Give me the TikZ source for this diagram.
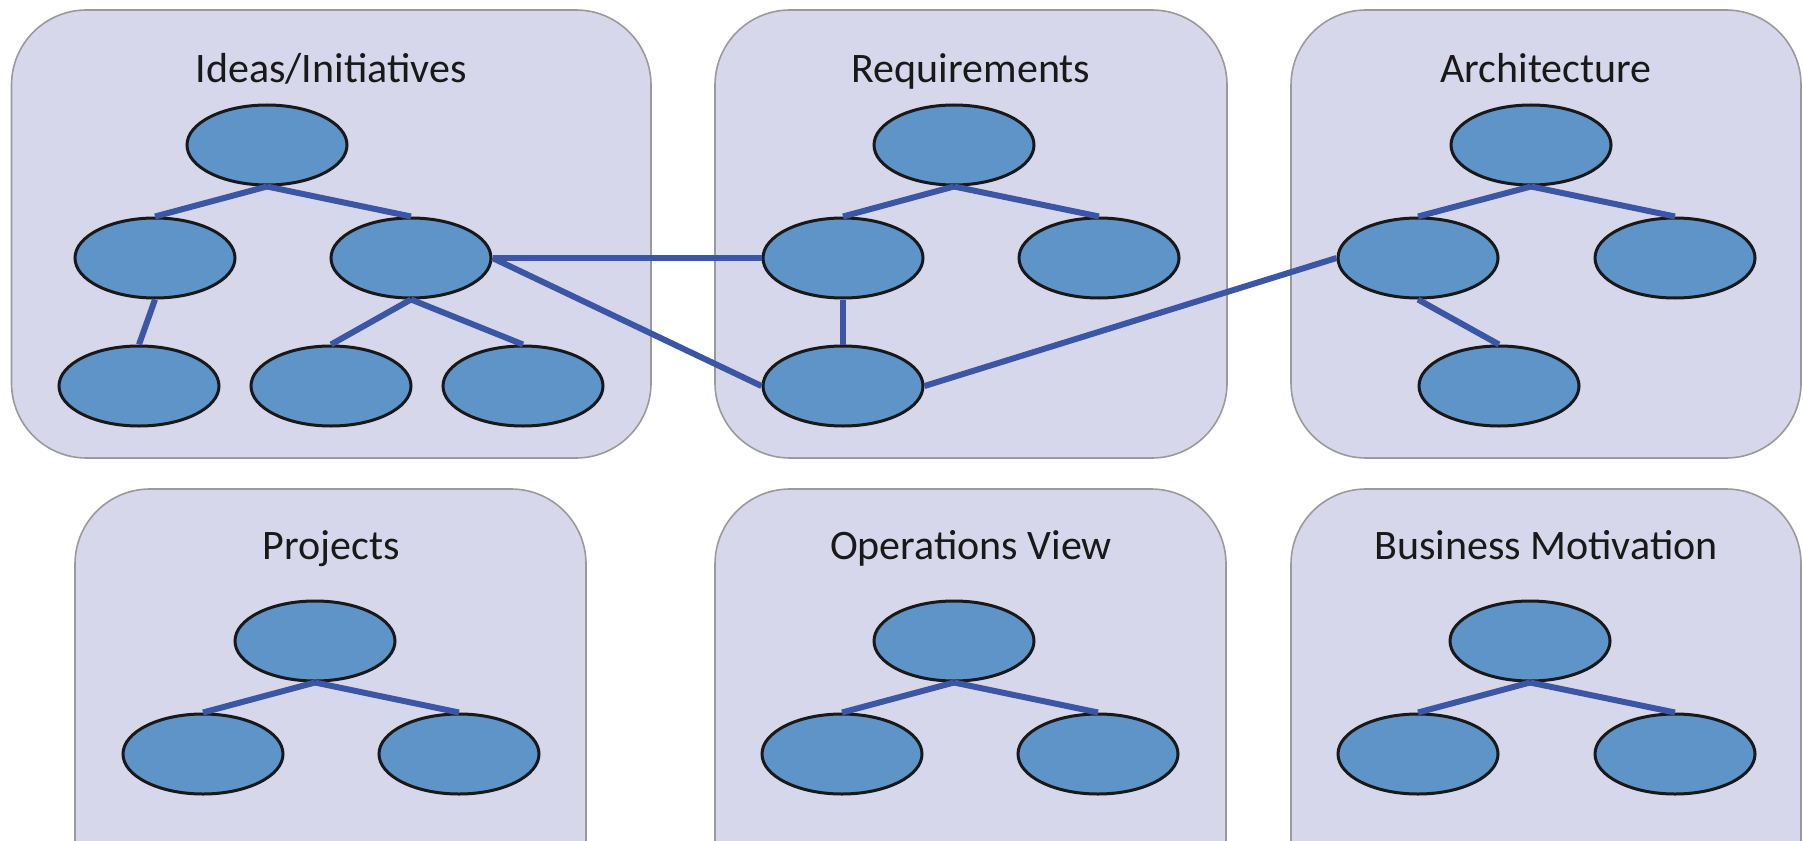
\documentclass[tikz,border=0pt]{standalone}
\usepackage{fontspec}
\setmainfont{Carlito}
\usetikzlibrary{shapes.geometric}
\definecolor{boxfill}{HTML}{D6D7EA}
\definecolor{boxline}{HTML}{9A9A9A}
\definecolor{nodefill}{HTML}{5E94C8}
\definecolor{edgecol}{HTML}{3C56A6}
\tikzset{
  panel/.style={draw=boxline, fill=boxfill, line width=1.6pt, rounded corners=75pt},
  item/.style={ellipse, draw=black!90, fill=nodefill, line width=3pt, minimum width=160pt, minimum height=80pt, inner sep=0pt},
  link/.style={draw=edgecol, line width=6pt},
  title/.style={font=\fontsize{42}{48}\selectfont, text=black!90, inner sep=0pt, anchor=base}
}
\begin{document}
\begin{tikzpicture}[x=1pt,y=-1pt]
\useasboundingbox (0,0) rectangle (1803,840);
\begin{scope}
\clip (0,0) rectangle (1803,840);
% panels
\draw[panel] (11.5,10) rectangle (651,458);
\draw[panel] (715,10) rectangle (1227,458);
\draw[panel] (1291,10) rectangle (1801,458);
\draw[panel] (75,489) rectangle (586,920);
\draw[panel] (715,489) rectangle (1226,920);
\draw[panel] (1291,489) rectangle (1801,920);
\end{scope}
% titles
\node[title] (t1) at (331,83) {Ideas/Initiatives};
\node[title] (t2) at (971,83) {Requirements};
\node[title] (t3) at (1546,83) {Architecture};
\node[title] (t4) at (331,559) {Projects};
\node[title] (t5) at (971,559) {Operations View};
\node[title] (t6) at (1546,559) {Business Motivation};
% Ideas/Initiatives
\node[item] (i1) at (267,145) {};
\node[item] (i2) at (155,258) {};
\node[item] (i3) at (411,258) {};
\node[item] (i4) at (139,386) {};
\node[item] (i5) at (331,386) {};
\node[item] (i6) at (523,386) {};
% Requirements
\node[item] (r1) at (954,145) {};
\node[item] (r2) at (843,258) {};
\node[item] (r3) at (1099,258) {};
\node[item] (r4) at (843,386) {};
% Architecture
\node[item] (a1) at (1531,145) {};
\node[item] (a2) at (1418,258) {};
\node[item] (a3) at (1675,258) {};
\node[item] (a4) at (1499,386) {};
% Projects
\node[item] (p1) at (315,641) {};
\node[item] (p2) at (203,754) {};
\node[item] (p3) at (459,754) {};
% Operations View
\node[item] (o1) at (954,641) {};
\node[item] (o2) at (842,754) {};
\node[item] (o3) at (1098,754) {};
% Business Motivation
\node[item] (b1) at (1530,641) {};
\node[item] (b2) at (1418,754) {};
\node[item] (b3) at (1675,754) {};
% edges
\path[link] (i1.south) -- (i2.north);
\path[link] (i1.south) -- (i3.north);
\path[link] (i2.south) -- (i4.north);
\path[link] (i3.south) -- (i5.north);
\path[link] (i3.south) -- (i6.north);
\path[link] (r1.south) -- (r2.north);
\path[link] (r1.south) -- (r3.north);
\path[link] (r2.south) -- (r4.north);
\path[link] (a1.south) -- (a2.north);
\path[link] (a1.south) -- (a3.north);
\path[link] (a2.south) -- (a4.north);
\path[link] (p1.south) -- (p2.north);
\path[link] (p1.south) -- (p3.north);
\path[link] (o1.south) -- (o2.north);
\path[link] (o1.south) -- (o3.north);
\path[link] (b1.south) -- (b2.north);
\path[link] (b1.south) -- (b3.north);
\path[link] (i3.east) -- (r2.west);
\path[link] (i3.east) -- (r4.west);
\path[link] (r4.east) -- (a2.west);
\end{tikzpicture}
\end{document}
